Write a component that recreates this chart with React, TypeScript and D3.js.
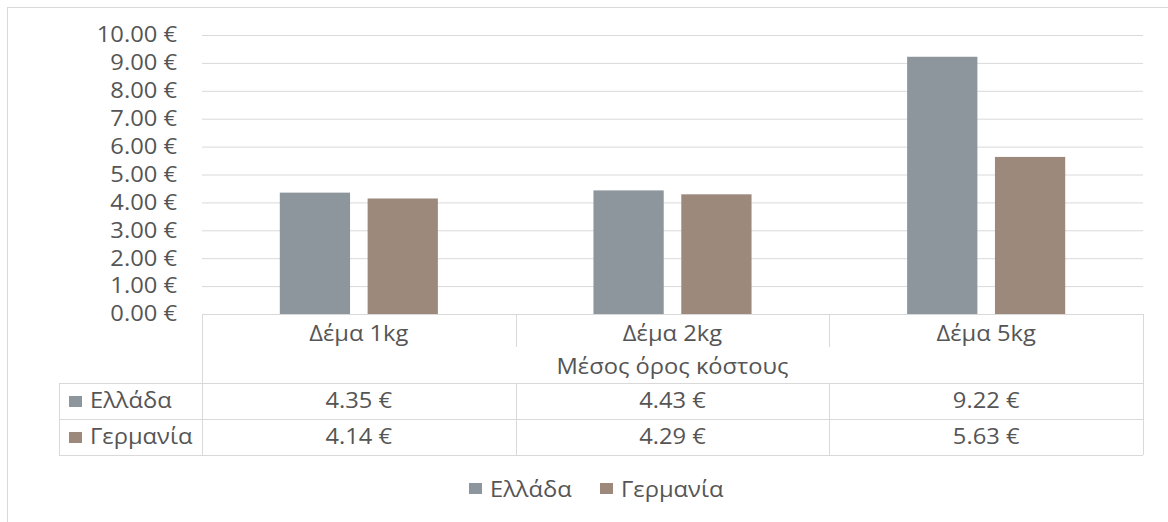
import React from "react";
import * as d3 from "d3";

// Average parcel shipping cost by weight class
const categories: string[] = ["Δέμα 1kg", "Δέμα 2kg", "Δέμα 5kg"];
const seriesNames: string[] = ["Ελλάδα", "Γερμανία"];
const greeceValues: number[] = [4.35, 4.43, 9.22];
const germanyValues: number[] = [4.14, 4.29, 5.63];
const yTicks: number[] = [0, 1, 2, 3, 4, 5, 6, 7, 8, 9, 10];
const groupTitle = "Μέσος όρος κόστους";

const seriesColors: string[] = ["#8d959d", "#9c897b"];
const seriesValues: number[][] = [greeceValues, germanyValues];

const W = 1168;
const H = 522;
const FONT = "'Open Sans', 'DejaVu Sans', sans-serif";
const FS = 21;
const STRETCH = 1.13;
const TEXT = "#555555";
const GRID = "#d9d9d9";

const fmt = (v: number) => `${v.toFixed(2)} €`;

type LabelProps = {
  x: number;
  y: number;
  anchor?: "start" | "middle" | "end";
  children: React.ReactNode;
};

// Text label with the wide letterforms used throughout the chart
function Label({ x, y, anchor = "start", children }: LabelProps) {
  return (
    <text
      transform={`translate(${x},${y}) scale(${STRETCH},1)`}
      dy="0.35em"
      textAnchor={anchor}
    >
      {children}
    </text>
  );
}

export default function App() {
  const plotLeft = 202;
  const plotRight = 1143;
  const plotTop = 35;
  const plotBottom = 314;

  const y = d3.scaleLinear().domain([0, 10]).range([plotBottom, plotTop]);
  const x0 = d3
    .scaleBand<string>()
    .domain(categories)
    .range([plotLeft, plotRight])
    .paddingInner(0.496)
    .paddingOuter(0.248);
  const x1 = d3
    .scaleBand<string>()
    .domain(seriesNames)
    .range([0, x0.bandwidth()])
    .paddingInner(0.2);

  const step = (plotRight - plotLeft) / categories.length;
  const colCenter = (i: number) => plotLeft + step * (i + 0.5);

  // data table geometry
  const tableLeft = 59;
  const headerMid = 347;
  const row1Top = 383;
  const row2Top = 419;
  const tableBottom = 455;

  return (
    <svg
      width={W}
      height={H}
      style={{ position: "absolute", left: 0, top: 0, background: "#fff" }}
      fontFamily={FONT}
      fontSize={FS}
      fill={TEXT}
    >
      <rect x={7.5} y={7.5} width={W} height={H} fill="#fff" stroke={GRID} />

      {/* gridlines and axis labels */}
      {yTicks.map((t) => (
        <g key={t}>
          {t > 0 && (
            <line x1={plotLeft} x2={plotRight} y1={y(t) + 0.5} y2={y(t) + 0.5} stroke={GRID} />
          )}
          <Label x={177} y={y(t)} anchor="end">
            {fmt(t)}
          </Label>
        </g>
      ))}

      {/* bars */}
      {categories.map((c, i) => (
        <g key={c} transform={`translate(${x0(c)},0)`}>
          {seriesNames.map((s, k) => (
            <rect
              key={s}
              x={x1(s)}
              y={y(seriesValues[k][i])}
              width={x1.bandwidth()}
              height={plotBottom - y(seriesValues[k][i])}
              fill={seriesColors[k]}
            />
          ))}
        </g>
      ))}

      {/* data table */}
      <g stroke={GRID} fill="none">
        <line x1={plotLeft} x2={plotRight} y1={plotBottom + 0.5} y2={plotBottom + 0.5} />
        <line x1={plotLeft + 0.5} x2={plotLeft + 0.5} y1={plotBottom} y2={tableBottom} />
        <line x1={plotRight + 0.5} x2={plotRight + 0.5} y1={plotBottom} y2={tableBottom} />
        <line x1={tableLeft + 0.5} x2={tableLeft + 0.5} y1={row1Top} y2={tableBottom} />
        {[row1Top, row2Top, tableBottom].map((yy) => (
          <line key={yy} x1={tableLeft} x2={plotRight} y1={yy + 0.5} y2={yy + 0.5} />
        ))}
        {categories.slice(1).map((c, i) => {
          const xx = Math.round(plotLeft + step * (i + 1)) + 0.5;
          return (
            <g key={c}>
              <line x1={xx} x2={xx} y1={plotBottom} y2={headerMid} />
              <line x1={xx} x2={xx} y1={row1Top} y2={tableBottom} />
            </g>
          );
        })}
      </g>

      {categories.map((c, i) => (
        <Label key={c} x={colCenter(i)} y={334} anchor="middle">
          {c}
        </Label>
      ))}
      <Label x={(plotLeft + plotRight) / 2} y={367} anchor="middle">
        {groupTitle}
      </Label>

      {seriesNames.map((s, k) => {
        const rowMid = (k === 0 ? row1Top + row2Top : row2Top + tableBottom) / 2;
        return (
          <g key={s}>
            <rect x={69} y={rowMid - 5} width={13} height={11} fill={seriesColors[k]} />
            <Label x={90} y={rowMid}>
              {s}
            </Label>
            {seriesValues[k].map((v, i) => (
              <Label key={i} x={colCenter(i)} y={rowMid} anchor="middle">
                {fmt(v)}
              </Label>
            ))}
          </g>
        );
      })}

      {/* legend */}
      {seriesNames.map((s, k) => {
        const lx = k === 0 ? 469 : 600;
        return (
          <g key={s}>
            <rect x={lx} y={483} width={13} height={11} fill={seriesColors[k]} />
            <Label x={lx + 21} y={490}>
              {s}
            </Label>
          </g>
        );
      })}
    </svg>
  );
}
